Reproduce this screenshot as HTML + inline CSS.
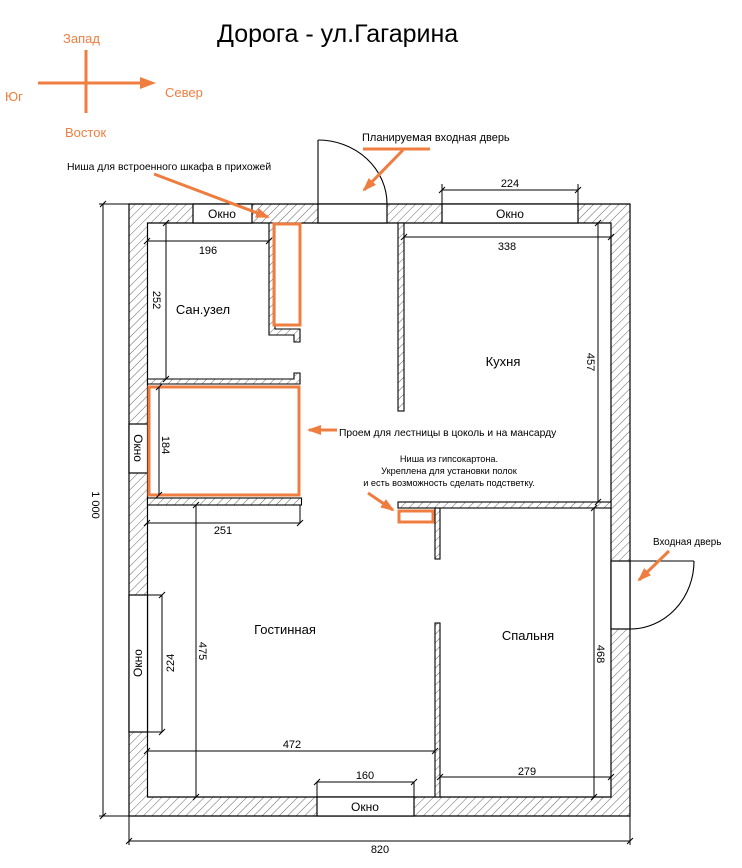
<!DOCTYPE html>
<html><head><meta charset="utf-8"><style>
html,body{margin:0;padding:0;background:#fff;}
svg{display:block;font-family:"Liberation Sans","DejaVu Sans",sans-serif;}
</style></head><body>
<svg width="742" height="868" viewBox="0 0 742 868" xmlns="http://www.w3.org/2000/svg">
<defs>
<pattern id="h" width="6" height="6" patternUnits="userSpaceOnUse" patternTransform="rotate(45)">
<rect width="6" height="6" fill="#fff"/><line x1="0" y1="0" x2="0" y2="6" stroke="#555" stroke-width="0.9"/>
</pattern>
<marker id="ar2" markerWidth="14" markerHeight="10" refX="12" refY="5" orient="auto" markerUnits="userSpaceOnUse"><path d="M0,0 L14,5 L0,10 z" fill="#ef7d3f"/></marker>
</defs>

<text x="217" y="42" font-size="25" fill="#000">Дорога - ул.Гагарина</text>

<g stroke="#ef7d3f" stroke-width="3">
<line x1="86" y1="50" x2="86" y2="113"/>
<line x1="38" y1="83" x2="145" y2="83"/>
</g>
<path d="M140,77 L156,83 L140,89 z" fill="#ef7d3f"/>
<g fill="#ef7d3f" font-size="13">
<text x="63" y="43">Запад</text>
<text x="5" y="101">Юг</text>
<text x="165" y="97">Север</text>
<text x="65" y="137">Восток</text>
</g>

<path fill="url(#h)" fill-rule="evenodd" stroke="#000" stroke-width="1.2" d="M129,204 H630 V816 H129 Z M147.5,223 V797 H611 V223 Z"/>
<g fill="#fff" stroke="#000" stroke-width="1.2">
<rect x="193" y="204" width="59" height="19"/>
<rect x="318" y="204" width="69" height="19"/>
<rect x="442" y="204" width="136" height="19"/>
<rect x="317" y="797" width="97" height="19"/>
<rect x="129" y="424" width="18.5" height="49"/>
<rect x="129" y="595" width="18.5" height="137"/>
<rect x="611" y="561" width="19" height="68"/>
</g>
<g font-size="12" fill="#000" text-anchor="middle">
<text x="222" y="218">Окно</text>
<text x="510" y="218">Окно</text>
<text x="365" y="811">Окно</text>
<text transform="translate(134,448) rotate(90)">Окно</text>
<text transform="translate(142,663) rotate(-90)">Окно</text>
</g>

<g fill="none" stroke="#000" stroke-width="1.1">
<line x1="318" y1="204" x2="318" y2="140"/>
<path d="M318,140 A69,64 0 0 1 387,204"/>
<line x1="630" y1="561" x2="694" y2="561"/>
<path d="M694,561 A64,68 0 0 1 630,629"/>
</g>

<g fill="url(#h)" stroke="#000" stroke-width="1.1">
<rect x="398" y="223" width="6" height="188"/>
<rect x="398" y="502" width="213" height="6"/>
<rect x="435" y="508" width="5" height="51"/>
<rect x="435" y="623" width="5" height="174"/>
<path d="M269,223 H275 V329 H300 V342 H294 V335 H269 Z"/>
<path d="M147.5,379 H294 V373 H300 V384 H147.5 Z"/>
<rect x="147.5" y="498" width="154" height="7"/>
</g>

<g fill="none" stroke="#ef7d3f" stroke-width="3">
<rect x="274" y="224" width="26" height="101"/>
<rect x="149" y="387" width="150" height="108"/>
<rect x="399" y="511" width="34" height="11"/>
</g>

<g stroke="#000" stroke-width="1" fill="none">
<line x1="147" y1="241" x2="269" y2="241"/>
<line x1="166" y1="223" x2="166" y2="379"/>
<line x1="159" y1="387" x2="159" y2="495"/>
<line x1="404" y1="237" x2="611" y2="237"/>
<line x1="442" y1="190" x2="578" y2="190"/>
<line x1="442" y1="184" x2="442" y2="204"/><line x1="578" y1="184" x2="578" y2="204"/>
<line x1="598" y1="223" x2="598" y2="502"/>
<line x1="598" y1="223" x2="611" y2="223"/>
<line x1="147" y1="523" x2="300" y2="523"/><line x1="300" y1="505" x2="300" y2="523"/>
<line x1="196" y1="505" x2="196" y2="797"/>
<line x1="162" y1="595" x2="162" y2="732"/>
<line x1="147" y1="595" x2="162" y2="595"/><line x1="147" y1="732" x2="162" y2="732"/>
<line x1="594" y1="508" x2="594" y2="797"/>
<line x1="147" y1="751" x2="435" y2="751"/>
<line x1="440" y1="777" x2="611" y2="777"/>
<line x1="317" y1="782" x2="414" y2="782"/>
<line x1="317" y1="782" x2="317" y2="797"/><line x1="414" y1="782" x2="414" y2="797"/>
<line x1="129" y1="841" x2="630" y2="841"/>
<line x1="129" y1="816" x2="129" y2="845"/><line x1="630" y1="816" x2="630" y2="845"/>
<line x1="103" y1="204" x2="103" y2="816"/>
<line x1="99" y1="204" x2="129" y2="204"/><line x1="99" y1="816" x2="129" y2="816"/>
</g>
<g stroke="#000" stroke-width="1">
<path d="M144,244 l6,-6 M266,244 l6,-6 M163,226 l6,-6 M163,382 l6,-6 M156,390 l6,-6 M156,498 l6,-6 M401,240 l6,-6 M608,240 l6,-6 M439,193 l6,-6 M575,193 l6,-6 M595,226 l6,-6 M595,505 l6,-6 M144,526 l6,-6 M297,526 l6,-6 M193,508 l6,-6 M193,800 l6,-6 M159,598 l6,-6 M159,735 l6,-6 M591,511 l6,-6 M591,800 l6,-6 M144,754 l6,-6 M432,754 l6,-6 M437,780 l6,-6 M608,780 l6,-6 M314,785 l6,-6 M411,785 l6,-6 M126,844 l6,-6 M627,844 l6,-6 M100,207 l6,-6 M100,819 l6,-6"/>
</g>
<g font-size="11" fill="#000" text-anchor="middle">
<text x="208" y="254">196</text>
<text transform="translate(153,300) rotate(90)">252</text>
<text transform="translate(162,445) rotate(90)">184</text>
<text x="507" y="250">338</text>
<text x="510" y="187">224</text>
<text transform="translate(587,362) rotate(90)">457</text>
<text x="223" y="534">251</text>
<text transform="translate(199,651) rotate(90)">475</text>
<text transform="translate(174,663) rotate(-90)">224</text>
<text transform="translate(597,654) rotate(90)">468</text>
<text x="292" y="748">472</text>
<text x="527" y="775">279</text>
<text x="365" y="779">160</text>
<text x="380" y="853">820</text>
<text transform="translate(92,505) rotate(90)">1 000</text>
</g>

<g font-size="13" fill="#000" text-anchor="middle">
<text x="203" y="314">Сан.узел</text>
<text x="503" y="366">Кухня</text>
<text x="285" y="634">Гостинная</text>
<text x="528" y="640">Спальня</text>
</g>

<g fill="#000">
<text x="362" y="141" font-size="11">Планируемая входная дверь</text>
<text x="67" y="170" font-size="10.4">Ниша для встроенного шкафа в прихожей</text>
<text x="339" y="436" font-size="10.3">Проем для лестницы в цоколь и на мансарду</text>
<text x="653" y="545" font-size="9.9">Входная дверь</text>
</g>
<g font-size="9.2" fill="#000" text-anchor="middle">
<text x="449" y="462">Ниша из гипсокартона.</text>
<text x="449" y="474">Укреплена для установки полок</text>
<text x="449" y="486">и есть возможность сделать подстветку.</text>
</g>
<g stroke="#ef7d3f" stroke-width="3" fill="none">
<line x1="363" y1="149" x2="430" y2="149"/>
<line x1="403" y1="150" x2="364" y2="190" marker-end="url(#ar2)"/>
<line x1="154" y1="174" x2="268" y2="217" marker-end="url(#ar2)"/>
<line x1="337" y1="430" x2="309" y2="430" marker-end="url(#ar2)"/>
<line x1="368" y1="493" x2="393" y2="510" marker-end="url(#ar2)"/>
<line x1="669" y1="551" x2="639" y2="580" marker-end="url(#ar2)"/>
</g>
</svg>
</body></html>
